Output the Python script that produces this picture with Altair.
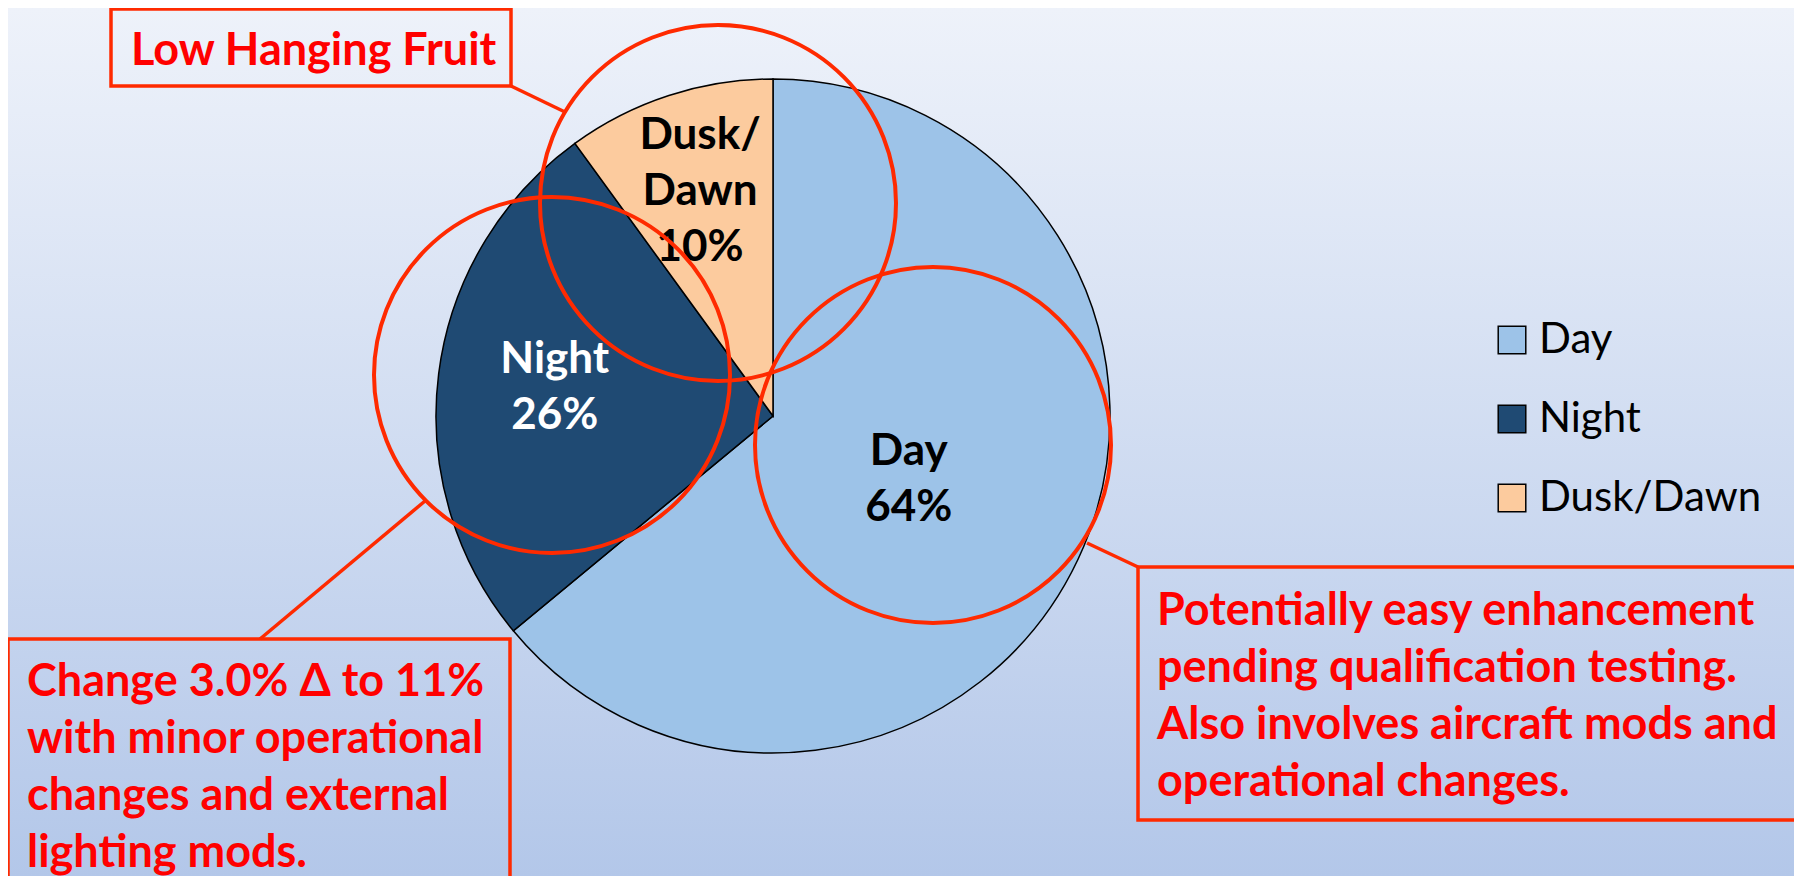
import math
import altair as alt
import pandas as pd

# ---- data ----
categories = ["Day", "Night", "Dusk/Dawn"]
shares = [64, 26, 10]
slice_colors = ["#9dc3e8", "#1f4a73", "#fccb9e"]

note_top = ["Low Hanging Fruit"]
note_left = ["Change 3.0% Δ to 11%", "with minor operational",
             "changes and external", "lighting mods."]
note_right = ["Potentially easy enhancement", "pending qualification testing.",
              "Also involves aircraft mods and", "operational changes."]

# ---- layout (pixels, reference coords minus page margin) ----
W, H = 1786, 868
OFF = 8


def px(v):
    return v - OFF


CX, CY, R = px(773), px(416), 337
LABEL_R = {"Day": 150, "Night": 220, "Dusk/Dawn": 236}
FONT = "Lato"
TXT_RED = "#ff0000"
LINE_RED = "#ff2a00"
FS_NOTE = 45
FS_PIE = 44
FS_LEG = 42
LH = 57
LH_PIE = 56

pie_df = pd.DataFrame({"cat": categories, "value": shares, "idx": list(range(len(categories)))})
total = float(sum(shares))
mid = (pie_df["value"].cumsum() - pie_df["value"] / 2.0) / total * 2 * math.pi
pie_df["label"] = [c.replace("/", "/\n") + f"\n{v}%" for c, v in zip(categories, shares)]
nlines = pie_df["label"].str.count("\n") + 1
lr = pd.Series([LABEL_R[c] for c in categories])
pie_df["lx"] = CX + lr * mid.apply(math.sin)
pie_df["ly"] = CY - lr * mid.apply(math.cos) - (nlines - 1) * LH_PIE / 2.0

circles_df = pd.DataFrame({"x": [px(718), px(552), px(933)], "y": [px(203), px(375), px(445)]})
rules_df = pd.DataFrame({
    "x": [px(511), px(425), px(1087)], "y": [px(86), px(501), px(543)],
    "x2": [px(565), px(260), px(1138)], "y2": [px(112), px(639), px(567)],
})
boxes_df = pd.DataFrame({
    "x": [px(111), px(8), px(1138)], "y": [px(9), px(639), px(567)],
    "x2": [px(511), px(510), px(1798)], "y2": [px(86), px(910), px(820)],
})
texts_df = pd.DataFrame({
    "x": [px(131), px(27), px(1157)], "y": [px(65), px(696), px(625)],
    "t": ["\n".join(note_top), "\n".join(note_left), "\n".join(note_right)],
})

bg = alt.Chart(alt.Data(values=[{}])).mark_rect(
    fill=alt.Gradient(gradient="linear",
                      stops=[alt.GradientStop(color="#eef2fa", offset=0),
                             alt.GradientStop(color="#b3c7e9", offset=1)],
                      x1=0, x2=0, y1=0, y2=1)
).encode(x=alt.value(0), x2=alt.value(W), y=alt.value(0), y2=alt.value(H))

pie = alt.Chart(pie_df).mark_arc(outerRadius=R, stroke="black", strokeWidth=1.5).encode(
    theta=alt.Theta("value:Q", stack=True),
    color=alt.Color("cat:N", sort=categories,
                    scale=alt.Scale(domain=categories, range=slice_colors),
                    legend=alt.Legend(orient="none", legendX=px(1491), legendY=px(319),
                                      title=None, symbolType="square", symbolSize=760,
                                      symbolStrokeColor="black", symbolStrokeWidth=1.5,
                                      labelFont=FONT, labelFontSize=FS_LEG, labelColor="black",
                                      rowPadding=37, labelOffset=6, labelLimit=400)),
    order=alt.Order("idx:Q"),
    x=alt.value(CX), y=alt.value(CY),
)

labels = alt.Chart(pie_df).mark_text(
    font=FONT, fontSize=FS_PIE, fontWeight="bold", lineBreak="\n", lineHeight=LH_PIE,
    align="center", baseline="middle"
).encode(
    x=alt.X("lx:Q", scale=None, axis=None),
    y=alt.Y("ly:Q", scale=None, axis=None),
    text="label:N",
    color=alt.condition(alt.datum.cat == "Night", alt.value("white"), alt.value("black")),
)

circles = alt.Chart(circles_df).mark_point(
    shape="circle", filled=False, size=356 ** 2, stroke=LINE_RED, strokeWidth=4, opacity=1
).encode(x=alt.X("x:Q", scale=None, axis=None), y=alt.Y("y:Q", scale=None, axis=None))

rules = alt.Chart(rules_df).mark_rule(color=LINE_RED, strokeWidth=3.5).encode(
    x=alt.X("x:Q", scale=None, axis=None), y=alt.Y("y:Q", scale=None, axis=None),
    x2="x2:Q", y2="y2:Q")

boxes = alt.Chart(boxes_df).mark_rect(fill="transparent", stroke=LINE_RED, strokeWidth=3.5).encode(
    x=alt.X("x:Q", scale=None, axis=None), y=alt.Y("y:Q", scale=None, axis=None),
    x2="x2:Q", y2="y2:Q")

texts = alt.Chart(texts_df).mark_text(
    font=FONT, fontSize=FS_NOTE, fontWeight="bold", color=TXT_RED, lineBreak="\n",
    lineHeight=LH, align="left", baseline="alphabetic"
).encode(x=alt.X("x:Q", scale=None, axis=None), y=alt.Y("y:Q", scale=None, axis=None), text="t:N")

chart = alt.layer(bg, pie, labels, circles, rules, boxes, texts).properties(
    width=W, height=H, padding=0, autosize=alt.AutoSizeParams(type="none")
).configure_view(strokeWidth=0)

chart.save("out.html", embed_options={"renderer": "svg", "actions": False})
